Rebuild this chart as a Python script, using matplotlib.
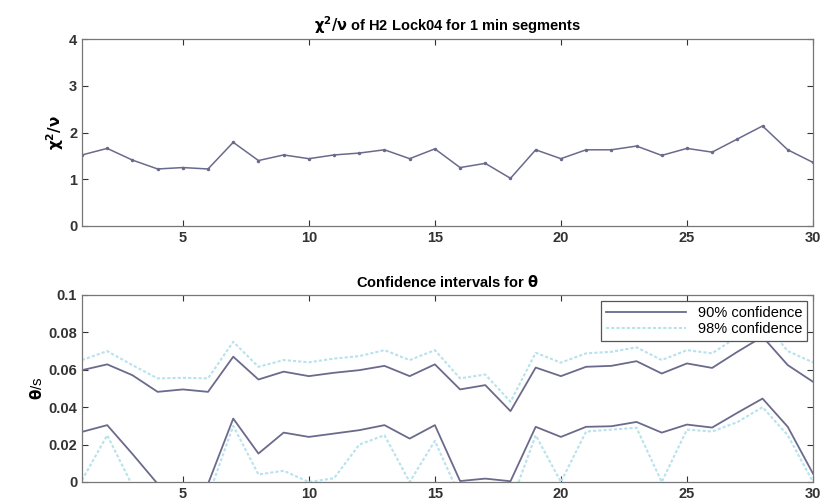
import numpy as np
import matplotlib
matplotlib.use("Agg")
import matplotlib.pyplot as plt

plt.rcParams['font.family'] = ['Liberation Sans', 'DejaVu Sans']

# segment index
seg = np.arange(1, 31)

# chi^2 / nu per 1 min segment
chi2nu = [1.52, 1.66, 1.41, 1.22, 1.25, 1.22, 1.79, 1.40, 1.52, 1.44,
          1.52, 1.56, 1.63, 1.44, 1.65, 1.25, 1.34, 1.02, 1.63, 1.44,
          1.63, 1.63, 1.71, 1.51, 1.66, 1.58, 1.86, 2.14, 1.63, 1.36]

# 90% confidence bounds
up90 = [0.0598, 0.0629, 0.0571, 0.0482, 0.0495, 0.0482, 0.0670, 0.0548, 0.0590, 0.0566,
        0.0584, 0.0598, 0.0621, 0.0566, 0.0629, 0.0495, 0.0518, 0.0379, 0.0612, 0.0566,
        0.0616, 0.0621, 0.0646, 0.0580, 0.0634, 0.0610, 0.0696, 0.0777, 0.0625, 0.0536]
lo90 = [0.0268, 0.0304, 0.0150, -0.001, -0.002, -0.001, 0.0339, 0.0152, 0.0264, 0.0241,
        0.0259, 0.0277, 0.0304, 0.0232, 0.0304, 0.0005, 0.0018, 0.0004, 0.0295, 0.0241,
        0.0295, 0.0298, 0.0321, 0.0264, 0.0307, 0.0291, 0.0370, 0.0446, 0.0295, 0.0045]

# 98% confidence bounds
up98 = [0.0652, 0.0700, 0.0625, 0.0554, 0.0557, 0.0554, 0.0750, 0.0616, 0.0652, 0.0640,
        0.0660, 0.0673, 0.0705, 0.0652, 0.0705, 0.0554, 0.0575, 0.0429, 0.0691, 0.0638,
        0.0688, 0.0696, 0.0720, 0.0652, 0.0705, 0.0688, 0.0777, 0.0866, 0.0700, 0.0640]
lo98 = [0.0010, 0.0250, -0.002, -0.008, -0.007, -0.008, 0.0300, 0.0040, 0.0060, 0.0000,
        0.0020, 0.0200, 0.0250, 0.0000, 0.0220, -0.008, -0.006, -0.012, 0.0250, 0.0000,
        0.0270, 0.0280, 0.0290, 0.0000, 0.0280, 0.0270, 0.0320, 0.0400, 0.0250, 0.0000]

dark = '#6a6a8c'
light = '#b8e2ec'

fig = plt.figure(figsize=(8.25, 5.04), dpi=100)
ax1 = fig.add_axes([0.0994, 0.5516, 0.886, 0.371])
ax2 = fig.add_axes([0.0994, 0.0437, 0.886, 0.371])

ax1.plot(seg, chi2nu, color=dark, lw=1.1, marker='.', ms=3)
ax1.set_xlim(1, 30)
ax1.set_ylim(0, 4)
ax1.set_xticks([5, 10, 15, 20, 25, 30])
ax1.set_yticks([0, 1, 2, 3, 4])
ax1.set_ylabel(r'$\mathbf{\chi^2/\nu}$', fontsize=11, labelpad=2)
ax1.set_title(r'$\mathbf{\chi^2/\nu}$ of H2 Lock04 for 1 min segments', fontsize=10.5,
              fontweight='bold', pad=6)

ax2.plot(seg, up90, color=dark, lw=1.3, label='90% confidence')
ax2.plot(seg, up98, color=light, lw=1.5, ls=(0, (1.5, 1)), label='98% confidence')
ax2.plot(seg, lo90, color=dark, lw=1.3)
ax2.plot(seg, lo98, color=light, lw=1.5, ls=(0, (1.5, 1)))
ax2.set_xlim(1, 30)
ax2.set_ylim(0, 0.1)
ax2.set_xticks([5, 10, 15, 20, 25, 30])
ax2.set_yticks([0, 0.02, 0.04, 0.06, 0.08, 0.1])
ax2.set_yticklabels(['0', '0.02', '0.04', '0.06', '0.08', '0.1'])
ax2.set_ylabel(r'$\mathbf{\theta}$/s', fontsize=11, labelpad=2)
ax2.set_title(r'Confidence intervals for $\mathbf{\theta}$', fontsize=10.5, fontweight='bold', pad=6)
leg = ax2.legend(loc='upper right', prop={'size': 10.5}, frameon=True, fancybox=False,
                 edgecolor='#555555', borderpad=0.35, handlelength=5.5, labelspacing=0.15,
                 borderaxespad=0.4, framealpha=1)
leg.get_frame().set_linewidth(0.9)

for ax in (ax1, ax2):
    ax.tick_params(direction='in', top=True, right=True, labelsize=10.5, length=4, colors='#333333')
    for lab in ax.get_xticklabels() + ax.get_yticklabels():
        lab.set_fontweight('bold')
    for sp in ax.spines.values():
        sp.set_color('#777777')
        sp.set_linewidth(0.9)

fig.savefig('out.png', dpi=100)
